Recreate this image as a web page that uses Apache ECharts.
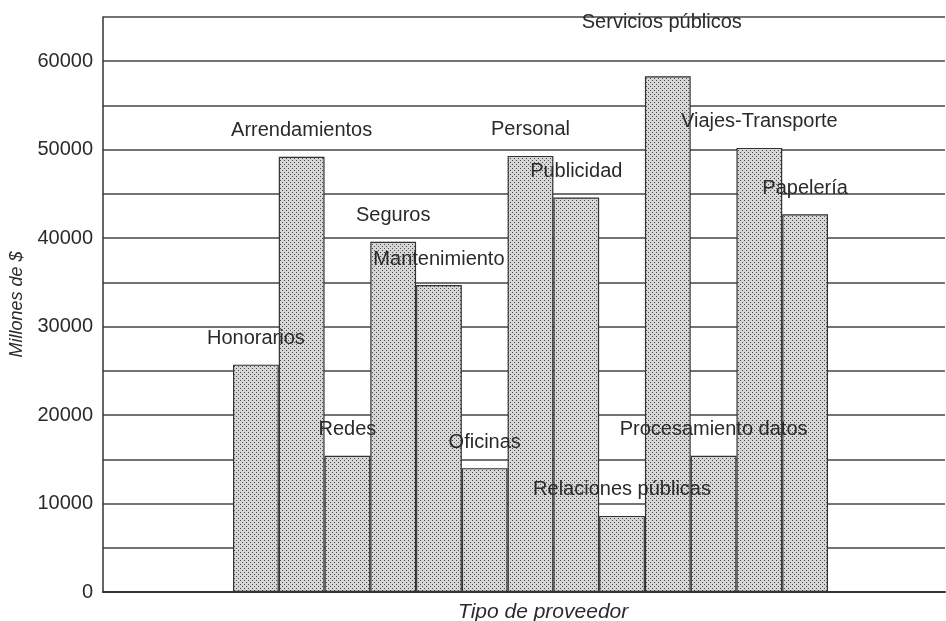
<!DOCTYPE html>
<html>
<head>
<meta charset="utf-8">
<script src="https://cdn.jsdelivr.net/npm/echarts@6/dist/echarts.min.js"></script>
<style>
  html, body { margin: 0; padding: 0; background: #fff; }
  #chart { width: 946px; height: 621px; }
</style>
</head>
<body>
<div id="chart"></div>
<script>
  // datos
  var proveedores = ['Honorarios', 'Arrendamientos', 'Redes', 'Seguros', 'Mantenimiento', 'Oficinas',
      'Personal', 'Publicidad', 'Relaciones públicas', 'Servicios públicos', 'Procesamiento datos',
      'Viajes-Transporte', 'Papelería'];
  var montos = [25700, 49200, 15400, 39600, 34700, 14000, 49300, 44600, 8600, 58300, 15400, 50200, 42700];
  var marcasY = [0, 10000, 20000, 30000, 40000, 50000, 60000];

  var fuente = 'Liberation Sans, Arial, sans-serif';
  var tinta = '#2a2a2a';

  // trama de puntos para las barras
  function trama() {
      var c = document.createElement('canvas');
      c.width = 4; c.height = 4;
      var ctx = c.getContext('2d');
      ctx.fillStyle = '#d6d6d6';
      ctx.fillRect(0, 0, 4, 4);
      ctx.fillStyle = '#4a4a4a';
      ctx.fillRect(0, 0, 1, 1);
      ctx.fillRect(2, 2, 1, 1);
      return c;
  }

  var chart = echarts.init(document.getElementById('chart'));

  var datosBarras = montos.map(function (v, i) {
      var item = { value: v };
      if (i === 9) {
          item.label = { distance: 44, offset: [-6, 0] };
      }
      return item;
  });

  chart.setOption({
      animation: false,
      grid: [
          { left: 103, right: 1, top: 17, bottom: 29 },
          { left: 233, right: 118, top: 17, bottom: 29 }
      ],
      xAxis: [
      {
          gridIndex: 0,
          type: 'value',
          min: 0,
          max: 1,
          axisLine: { show: true, lineStyle: { color: '#333', width: 2 } },
          axisTick: { show: false },
          axisLabel: { show: false },
          splitLine: { show: false }
      },
      {
          gridIndex: 1,
          type: 'category',
          data: proveedores,
          axisLine: { show: false },
          axisTick: { show: false },
          axisLabel: { show: false }
      }],
      yAxis: [
      {
          gridIndex: 0,
          type: 'value',
          min: 0,
          max: 65000,
          interval: 5000,
          name: 'Millones de $',
          nameLocation: 'middle',
          nameGap: 76,
          nameTextStyle: { fontFamily: fuente, fontStyle: 'italic', fontSize: 18, color: tinta },
          axisLine: { show: true, lineStyle: { color: '#333', width: 1.5 } },
          axisTick: { show: false },
          axisLabel: {
              margin: 10,
              fontFamily: fuente,
              fontSize: 20,
              color: tinta,
              formatter: function (v) {
                  return marcasY.indexOf(v) >= 0 ? String(v) : '';
              }
          },
          splitLine: { show: true, lineStyle: { color: '#444', width: 1.5 } }
      },
      {
          gridIndex: 1,
          type: 'value',
          min: 0,
          max: 65000,
          show: false
      }],
      graphic: [
      {
          type: 'text',
          left: 458,
          top: 602,
          style: {
              text: 'Tipo de proveedor',
              font: 'italic 21px ' + fuente,
              fill: tinta
          }
      }],
      series: [
      {
          name: 'Monto',
          type: 'bar',
          xAxisIndex: 1,
          yAxisIndex: 1,
          barWidth: '100%',
          barCategoryGap: 0,
          itemStyle: {
              color: { image: trama(), repeat: 'repeat' },
              borderColor: '#333',
              borderWidth: 1.2
          },
          label: {
              show: true,
              position: 'top',
              distance: 16,
              formatter: function (p) { return p.name; },
              fontFamily: fuente,
              fontSize: 20,
              color: tinta
          },
          data: datosBarras
      }]
  });
</script>
</body>
</html>
